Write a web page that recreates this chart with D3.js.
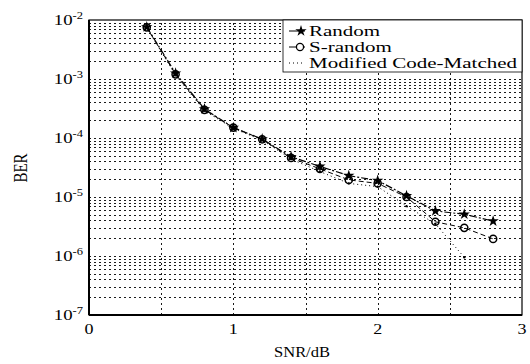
<!DOCTYPE html>
<html>
<head>
<meta charset="utf-8">
<script src="https://cdn.jsdelivr.net/npm/d3@7"></script>
<style>
  body { margin: 0; background: #fff; }
  svg { display: block; font-family: "Liberation Serif", "DejaVu Serif", serif; }
</style>
</head>
<body>
<svg id="chart" width="530" height="364"></svg>
<script>
// ---- data
var snr = [0.4, 0.6, 0.8, 1.0, 1.2, 1.4, 1.6, 1.8, 2.0, 2.2, 2.4, 2.6, 2.8];
var randomBer = [7.6e-3, 1.25e-3, 3.1e-4, 1.5e-4, 9.6e-5, 4.8e-5, 3.3e-5, 2.3e-5, 1.9e-5, 1.05e-5, 5.8e-6, 5.1e-6, 3.9e-6];
var sRandomBer = [7.5e-3, 1.2e-3, 3.0e-4, 1.5e-4, 9.5e-5, 4.6e-5, 3.0e-5, 1.95e-5, 1.7e-5, 1.0e-5, 3.8e-6, 3.0e-6, 1.95e-6];
var modSnr = [0.4, 0.6, 0.8, 1.0, 1.2, 1.4, 1.6, 1.8, 2.0, 2.2, 2.4, 2.6];
var modBer = [7.4e-3, 1.15e-3, 2.9e-4, 1.45e-4, 9.2e-5, 4.4e-5, 2.7e-5, 1.7e-5, 1.5e-5, 7e-6, 3.5e-6, 9.5e-7];
var xTicks = [0, 0.5, 1, 1.5, 2, 2.5, 3];
var xLabels = [0, 1, 2, 3];
var yExps = [-2, -3, -4, -5, -6, -7];
var seriesNames = ["Random", "S-random", "Modified Code-Matched"];

var margin = {top: 20, right: 8, bottom: 49, left: 89};
var svg = d3.select('#chart');
var W = 530, H = 364;

var x = d3.scaleLinear().domain([0, 3]).range([margin.left, W - margin.right]);
var y = d3.scaleLog().domain([1e-7, 1e-2]).range([H - margin.bottom, margin.top]);

// text placed at (px,py), stretched sideways like the scan
function label(parent, px, py, sx, anchor, size) {
  return parent.append('g')
    .attr('transform', 'translate(' + px + ',' + py + ') scale(' + sx + ',1)')
    .append('text')
    .attr('text-anchor', anchor)
    .attr('font-size', size)
    .attr('fill', '#000');
}

// ---- grid (dotted, every minor decade step + every 0.5 dB)
var minor = [];
yExps.forEach(function(e) {
  if (e === -2) return;
  for (var k = 1; k <= 9; k++) minor.push(k * Math.pow(10, e));
});

var grid = svg.append('g').attr('stroke', '#000').attr('stroke-width', 0.9)
  .attr('stroke-dasharray', '2,3');

grid.selectAll('.hg').data(minor).enter().append('line')
  .attr('x1', x(0)).attr('x2', x(3))
  .attr('y1', function(d) { return Math.round(y(d)) + 0.5; })
  .attr('y2', function(d) { return Math.round(y(d)) + 0.5; });

grid.selectAll('.vg').data(xTicks.slice(1, -1)).enter().append('line')
  .attr('y1', y(1e-7)).attr('y2', y(1e-2))
  .attr('x1', function(d) { return Math.round(x(d)) + 0.5; })
  .attr('x2', function(d) { return Math.round(x(d)) + 0.5; });

// ---- frame
svg.append('rect')
  .attr('x', x(0)).attr('y', y(1e-2))
  .attr('width', x(3) - x(0)).attr('height', y(1e-7) - y(1e-2))
  .attr('fill', 'none').attr('stroke', '#000').attr('stroke-width', 1.2);
svg.append('line').attr('x1', x(0)).attr('x2', x(0)).attr('y1', y(1e-2)).attr('y2', y(1e-7))
  .attr('stroke', '#000').attr('stroke-width', 2);
svg.append('line').attr('x1', x(0)).attr('x2', x(3)).attr('y1', y(1e-7)).attr('y2', y(1e-7))
  .attr('stroke', '#000').attr('stroke-width', 2);

// ---- axes
xTicks.forEach(function(t) {
  if (xLabels.indexOf(t) < 0) return;
  label(svg, x(t), y(1e-7) + 19, 1.2, 'middle', 15).text(d3.format('d')(t));
});

yExps.forEach(function(e) {
  var t = label(svg, x(0) - 6, y(Math.pow(10, e)) + 5, 1.25, 'end', 15);
  t.append('tspan').text('10');
  t.append('tspan').attr('dy', -6).attr('font-size', 10).text('-' + Math.abs(e));
});

label(svg, 302, 357, 1.1, 'middle', 15).text('SNR/dB');
svg.append('g').attr('transform', 'translate(27,168) rotate(-90) scale(1,1.25)')
  .append('text').attr('text-anchor', 'middle').attr('font-size', 15).text('BER');

// ---- series
var line = d3.line()
  .x(function(d) { return x(d[0]); })
  .y(function(d) { return y(d[1]); });

var randomPts = d3.zip(snr, randomBer);
var sRandomPts = d3.zip(snr, sRandomBer);
var modPts = d3.zip(modSnr, modBer);

svg.append('path').datum(modPts).attr('d', line).attr('fill', 'none')
  .attr('stroke', '#000').attr('stroke-width', 1).attr('stroke-dasharray', '1,3');
svg.append('path').datum(sRandomPts).attr('d', line).attr('fill', 'none')
  .attr('stroke', '#000').attr('stroke-width', 1).attr('stroke-dasharray', '5,3');
svg.append('path').datum(randomPts).attr('d', line).attr('fill', 'none')
  .attr('stroke', '#000').attr('stroke-width', 1.2).attr('stroke-dasharray', '7,2,2,2');

var star = d3.symbol().type(d3.symbolStar).size(40);
var circle = d3.symbol().type(d3.symbolCircle).size(40);

svg.selectAll('.m3').data(modPts).enter().append('circle')
  .attr('cx', function(d) { return x(d[0]); })
  .attr('cy', function(d) { return y(d[1]); })
  .attr('r', 1.2).attr('fill', '#000');

svg.selectAll('.m2').data(sRandomPts).enter().append('path')
  .attr('d', circle)
  .attr('transform', function(d) { return 'translate(' + x(d[0]) + ',' + y(d[1]) + ')'; })
  .attr('fill', 'none').attr('stroke', '#000').attr('stroke-width', 1.5);

svg.selectAll('.m1').data(randomPts).enter().append('path')
  .attr('d', star)
  .attr('transform', function(d) { return 'translate(' + x(d[0]) + ',' + y(d[1]) + ')'; })
  .attr('fill', '#000');

// ---- legend
var lg = svg.append('g');
lg.append('rect').attr('x', 283).attr('y', y(1e-2)).attr('width', x(3) - 283).attr('height', 52)
  .attr('fill', '#fff').attr('stroke', '#000').attr('stroke-width', 0.8);

seriesNames.forEach(function(name, i) {
  var ry = 31 + i * 16;
  lg.append('line').attr('x1', 289).attr('x2', 305).attr('y1', ry).attr('y2', ry)
    .attr('stroke', '#000').attr('stroke-width', 1)
    .attr('stroke-dasharray', i === 2 ? '1,3' : null);
  if (i === 0) {
    lg.append('path').attr('d', star).attr('transform', 'translate(301,' + ry + ')').attr('fill', '#000');
  } else if (i === 1) {
    lg.append('path').attr('d', circle).attr('transform', 'translate(300,' + ry + ')')
      .attr('fill', '#fff').attr('stroke', '#000').attr('stroke-width', 1.3);
  }
  label(lg, 309, ry + 5, 1.5, 'start', 14).text(name);
});
</script>
</body>
</html>
